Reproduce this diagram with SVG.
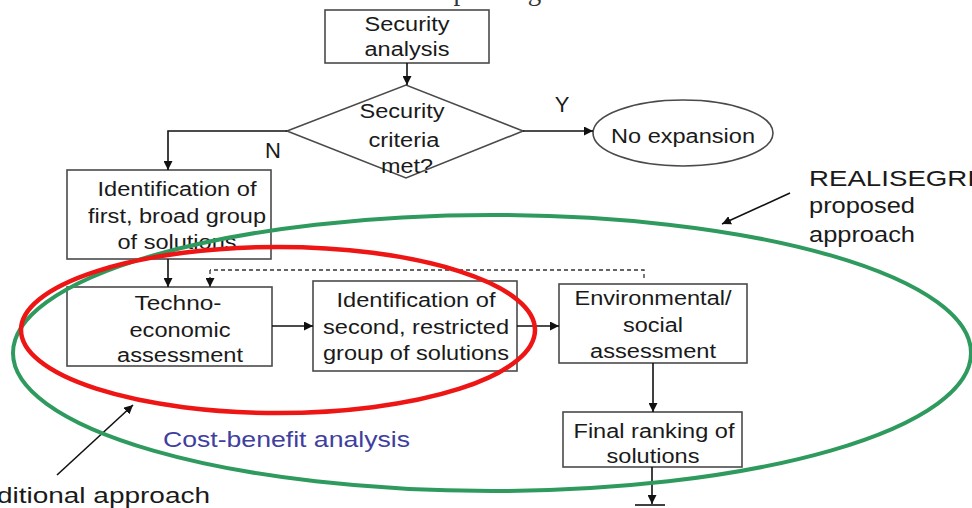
<svg xmlns="http://www.w3.org/2000/svg" width="972" height="508" viewBox="0 0 972 508">
  <defs>
    <marker id="arrow" viewBox="0 0 10 10" refX="10" refY="5" markerWidth="9" markerHeight="9" markerUnits="userSpaceOnUse" orient="auto">
      <path d="M0,0 L10,5 L0,10 z" fill="#111"/>
    </marker>
    <style>
      .box { fill: #fff; stroke: #4a4a4a; stroke-width: 1.6; }
      .t { font-family: "Liberation Sans", Arial, sans-serif; font-size: 20px; fill: #1a1a1a; text-anchor: middle; }
      .lbl { font-family: "Liberation Sans", Arial, sans-serif; font-size: 22px; fill: #1a1a1a; }
      .conn { fill: none; stroke: #111; stroke-width: 1.6; }
      .dash { fill: none; stroke: #333; stroke-width: 1.3; stroke-dasharray: 4 3; }
    </style>
  </defs>
  <rect width="972" height="508" fill="#fff"/>

  <!-- running text of the page above the figure (cut by the top edge) -->
  <text x="578" y="0" font-family="'Liberation Serif', 'Times New Roman', serif" font-size="27" fill="#333" text-anchor="end">r machines that are needed in the future power grid.</text>

  <!-- nodes -->
  <g id="security-analysis">
    <rect class="box" x="325" y="10" width="164" height="53"/>
    <text class="t" x="407" y="31" textLength="85" lengthAdjust="spacingAndGlyphs">Security</text>
    <text class="t" x="407" y="56" textLength="85" lengthAdjust="spacingAndGlyphs">analysis</text>
  </g>

  <g id="criteria-decision">
    <polygon class="box" points="287,131 406,85 523,131 406,178"/>
    <text class="t" x="402" y="118" textLength="85" lengthAdjust="spacingAndGlyphs">Security</text>
    <text class="t" x="404" y="147" textLength="71" lengthAdjust="spacingAndGlyphs">criteria</text>
    <text class="t" x="407" y="173" textLength="52" lengthAdjust="spacingAndGlyphs">met?</text>
  </g>

  <g id="no-expansion">
    <ellipse class="box" cx="683" cy="133" rx="90" ry="33"/>
    <text class="t" x="683" y="143" textLength="144" lengthAdjust="spacingAndGlyphs">No expansion</text>
  </g>

  <g id="first-group">
    <rect class="box" x="67" y="170" width="204" height="89"/>
    <text class="t" x="177" y="196" textLength="159" lengthAdjust="spacingAndGlyphs">Identification of</text>
    <text class="t" x="177" y="223" textLength="178" lengthAdjust="spacingAndGlyphs">first, broad group</text>
    <text class="t" x="177" y="249" textLength="119" lengthAdjust="spacingAndGlyphs">of solutions</text>
  </g>

  <g id="techno-economic">
    <rect class="box" x="67" y="287" width="205" height="79"/>
    <text class="t" x="178" y="310" textLength="87" lengthAdjust="spacingAndGlyphs">Techno-</text>
    <text class="t" x="180" y="337" textLength="101" lengthAdjust="spacingAndGlyphs">economic</text>
    <text class="t" x="180" y="362" textLength="126" lengthAdjust="spacingAndGlyphs">assessment</text>
  </g>

  <g id="second-group">
    <rect class="box" x="313" y="281" width="204" height="90"/>
    <text class="t" x="416" y="307" textLength="159" lengthAdjust="spacingAndGlyphs">Identification of</text>
    <text class="t" x="416" y="334" textLength="186" lengthAdjust="spacingAndGlyphs">second, restricted</text>
    <text class="t" x="416" y="360" textLength="186" lengthAdjust="spacingAndGlyphs">group of solutions</text>
  </g>

  <g id="env-social">
    <rect class="box" x="559" y="284" width="188" height="79"/>
    <text class="t" x="653" y="305" textLength="157" lengthAdjust="spacingAndGlyphs">Environmental/</text>
    <text class="t" x="653" y="332" textLength="60" lengthAdjust="spacingAndGlyphs">social</text>
    <text class="t" x="653" y="358" textLength="126" lengthAdjust="spacingAndGlyphs">assessment</text>
  </g>

  <g id="final-ranking">
    <rect class="box" x="563" y="412" width="179" height="55"/>
    <text class="t" x="654" y="438" textLength="161" lengthAdjust="spacingAndGlyphs">Final ranking of</text>
    <text class="t" x="653" y="463" textLength="93" lengthAdjust="spacingAndGlyphs">solutions</text>
  </g>

  <!-- connectors -->
  <g id="connectors">
    <line class="conn" x1="407" y1="63" x2="407" y2="85" marker-end="url(#arrow)"/>
    <line class="conn" x1="523" y1="131" x2="593" y2="131" marker-end="url(#arrow)"/>
    <polyline class="conn" points="287,131 168,131 168,170" marker-end="url(#arrow)"/>
    <line class="conn" x1="168" y1="259" x2="168" y2="287" marker-end="url(#arrow)"/>
    <line class="conn" x1="272" y1="326" x2="313" y2="326" marker-end="url(#arrow)"/>
    <line class="conn" x1="517" y1="326" x2="559" y2="326" marker-end="url(#arrow)"/>
    <line class="conn" x1="653" y1="363" x2="653" y2="412" marker-end="url(#arrow)"/>
    <line class="conn" x1="652" y1="467" x2="652" y2="504" marker-end="url(#arrow)"/>
    <line class="conn" x1="635" y1="505" x2="665" y2="505"/>
    <!-- feedback loop (dashed) -->
    <polyline class="dash" points="644,278 644,270 210,270"/>
    <line class="dash" x1="210" y1="270" x2="210" y2="287" marker-end="url(#arrow)"/>
    <!-- pointer arrows -->
    <line class="conn" x1="790" y1="193" x2="722" y2="224" marker-end="url(#arrow)"/>
    <line class="conn" x1="57" y1="475" x2="133" y2="405" marker-end="url(#arrow)"/>
  </g>

  <!-- branch labels -->
  <text class="lbl" x="562" y="112" text-anchor="middle">Y</text>
  <text class="lbl" x="273" y="158" text-anchor="middle">N</text>

  <!-- scope outlines -->
  <ellipse cx="492" cy="353" rx="479" ry="138" fill="none" stroke="#2f9a5e" stroke-width="4"/>
  <ellipse cx="278" cy="330" rx="257" ry="83" fill="none" stroke="#ee1515" stroke-width="4.5"/>

  <!-- annotations -->
  <text class="lbl" x="163" y="447" font-size="22.5" style="fill:#3f3fa0" textLength="247" lengthAdjust="spacingAndGlyphs">Cost-benefit analysis</text>
  <text class="lbl" x="210" y="503" font-size="23" text-anchor="end" textLength="254" lengthAdjust="spacingAndGlyphs">Traditional approach</text>
  <text class="lbl" x="809" y="186" font-size="23" textLength="186" lengthAdjust="spacingAndGlyphs">REALISEGRID</text>
  <text class="lbl" x="809" y="213" font-size="23" textLength="106" lengthAdjust="spacingAndGlyphs">proposed</text>
  <text class="lbl" x="809" y="242" font-size="23" textLength="106" lengthAdjust="spacingAndGlyphs">approach</text>
</svg>
